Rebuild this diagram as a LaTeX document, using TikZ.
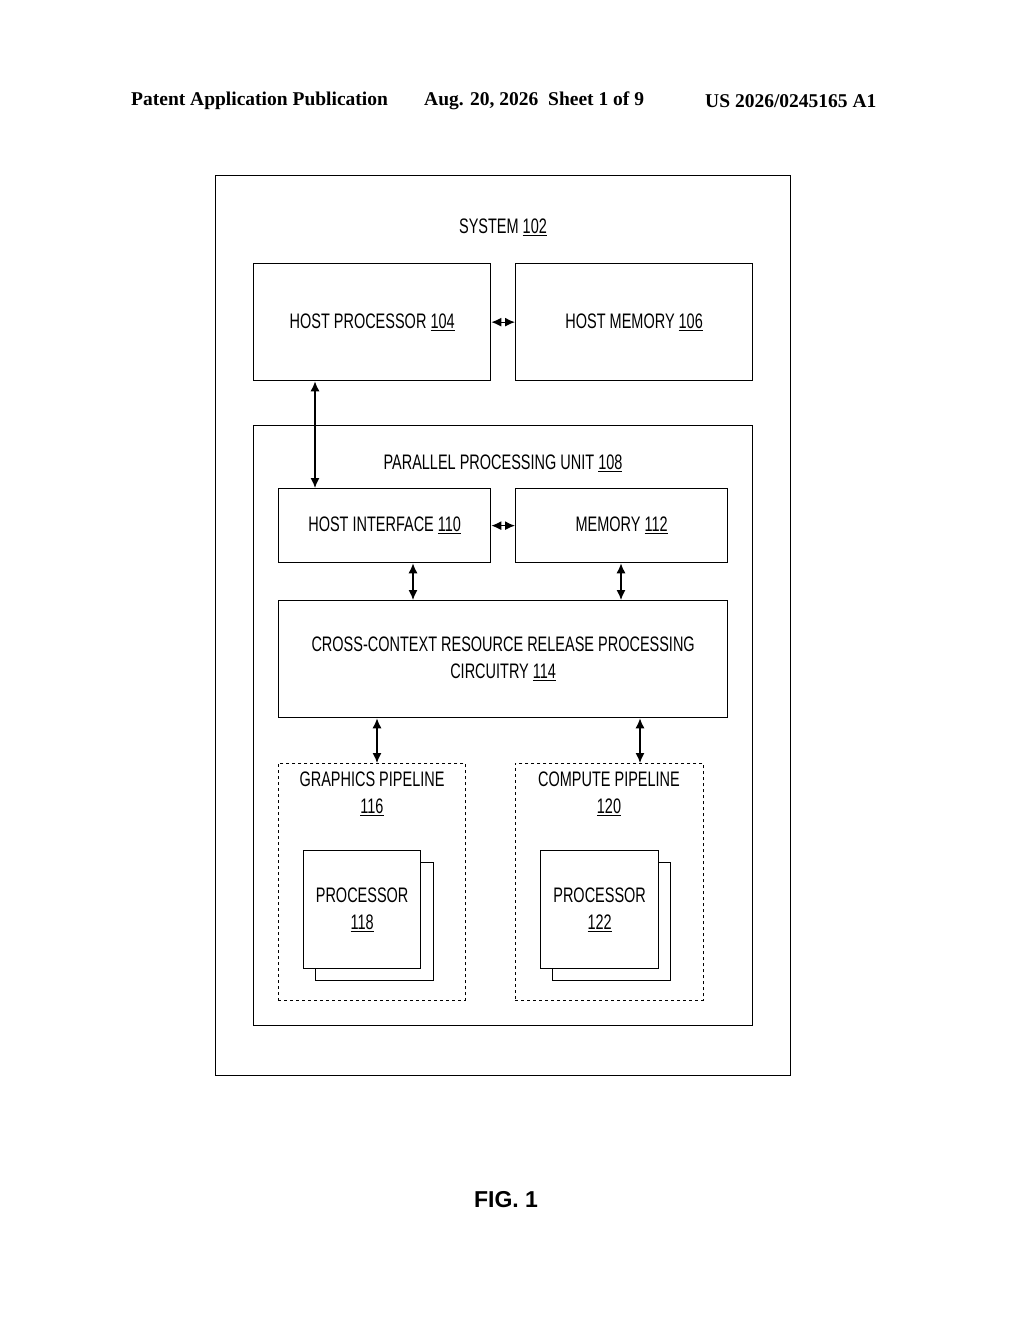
\documentclass[tikz,border=0pt]{standalone}
\usepackage{fontspec}
\setmainfont{Liberation Serif}
\setsansfont{Liberation Sans}[FakeStretch=0.69]
\newfontfamily\figfont{Liberation Sans}
\usetikzlibrary{arrows.meta, calc}
\begin{document}
\begin{tikzpicture}[
    x=1pt, y=-1pt,
    % Styles
    box/.style={ % solid block
        draw, line width=1.3pt, anchor=north west, inner sep=0pt,
        font=\sffamily\fontsize{21}{27}\selectfont, align=center
    },
    pipe/.style={ % dashed pipeline block
        box, dashed, line width=0.9pt
    },
    link/.style={ % two-way connector
        {Latex[length=10pt,width=9pt]}-{Latex[length=10pt,width=9pt]},
        line width=1.3pt
    },
    lbl/.style={
        font=\sffamily\fontsize{21}{27}\selectfont, align=center
    },
    hdr/.style={
        font=\bfseries\fontsize{19.5}{22}\selectfont, anchor=west, inner sep=0pt
    }
]
    \useasboundingbox (0,0) rectangle (1024,1320);

    % Page header
    \node[hdr] (hdrl) at (131,101) {Patent Application Publication};
    \node[hdr] (hdrm) at (424,101) {Aug. 20, 2026\ \ Sheet 1 of 9};
    \node[hdr] (hdrr) at (705,101) {US 2026/0245165 A1};

    % System level
    \node[box, minimum width=575, minimum height=900] (sys) at (215,175) {};
    \node[lbl] (syslbl) at (503,227) {SYSTEM \underline{102}};
    \node[box, minimum width=237, minimum height=117] (hp) at (253,263) {HOST PROCESSOR \underline{104}};
    \node[box, minimum width=237, minimum height=117] (hm) at (515,263) {HOST MEMORY \underline{106}};

    % Parallel processing unit
    \node[box, minimum width=499, minimum height=600] (ppu) at (253,425) {};
    \node[lbl] (ppulbl) at (503,463) {PARALLEL PROCESSING UNIT \underline{108}};
    \node[box, minimum width=212, minimum height=74] (hi) at (278,488) {HOST INTERFACE \underline{110}};
    \node[box, minimum width=212, minimum height=74] (mem) at (515,488) {MEMORY \underline{112}};
    \node[box, minimum width=449, minimum height=117] (crr) at (278,600) {CROSS-CONTEXT RESOURCE RELEASE PROCESSING\\CIRCUITRY \underline{114}};

    % Pipelines
    \node[pipe, minimum width=187, minimum height=237] (gp) at (278,763) {};
    \node[lbl, anchor=north] (gplbl) at (372,768) {GRAPHICS PIPELINE\\\underline{116}};
    \node[pipe, minimum width=188, minimum height=237] (cp) at (515,763) {};
    \node[lbl, anchor=north] (cplbl) at (609,768) {COMPUTE PIPELINE\\\underline{120}};

    % Processors (stacked)
    \node[box, fill=white, minimum width=118, minimum height=118] (p118b) at (315,862) {};
    \node[box, fill=white, minimum width=117, minimum height=118] (p118) at (303,850) {PROCESSOR\\\underline{118}};
    \node[box, fill=white, minimum width=118, minimum height=118] (p122b) at (552,862) {};
    \node[box, fill=white, minimum width=118, minimum height=118] (p122) at (540,850) {PROCESSOR\\\underline{122}};

    % Connectors
    \draw[link] (hp.east) -- (hm.west);
    \draw[link] (hp.south -| 315,0) -- (hi.north -| 315,0);
    \draw[link] (hi.east) -- (mem.west);
    \draw[link] (hi.south -| 413,0) -- (crr.north -| 413,0);
    \draw[link] (mem.south -| 621,0) -- (crr.north -| 621,0);
    \draw[link] (crr.south -| 377,0) -- (gp.north -| 377,0);
    \draw[link] (crr.south -| 640,0) -- (cp.north -| 640,0);

    % Figure label
    \node[font=\figfont\bfseries\fontsize{23}{27}\selectfont] (fig) at (506,1200) {FIG. 1};
\end{tikzpicture}
\end{document}
